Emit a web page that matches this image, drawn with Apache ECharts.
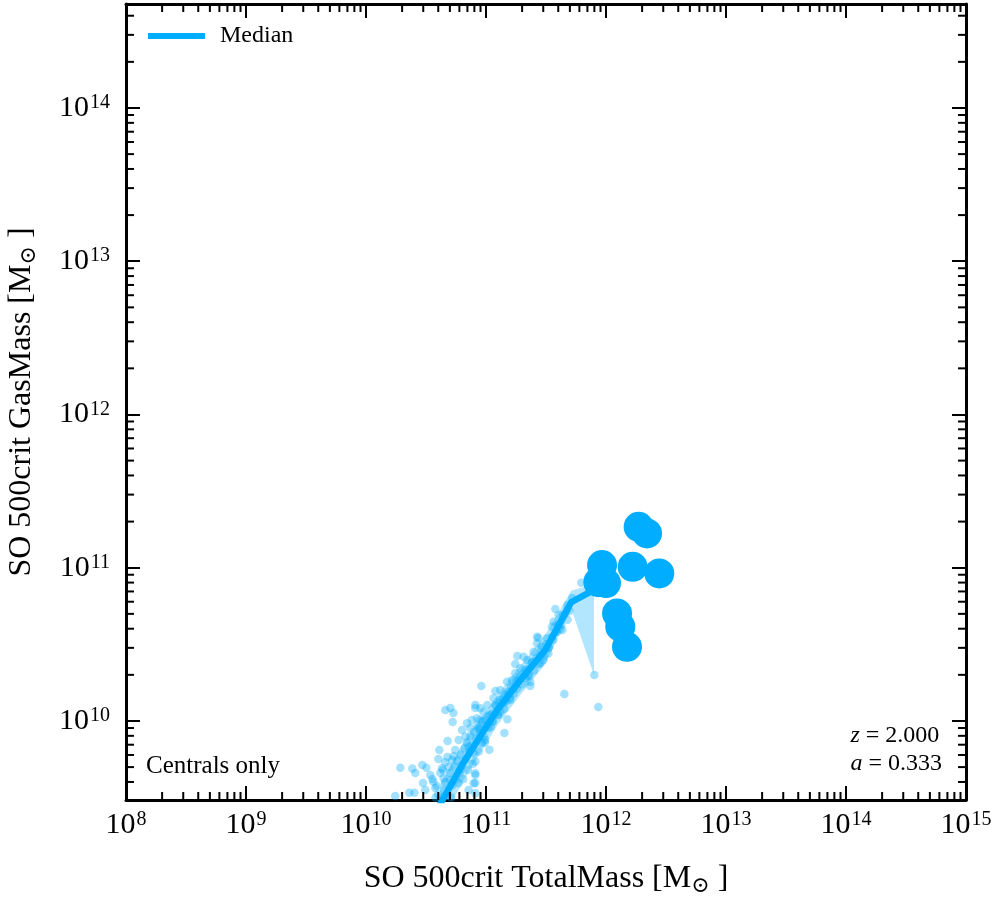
<!DOCTYPE html>
<html>
<head>
<meta charset="utf-8">
<script src="https://cdn.jsdelivr.net/npm/echarts@6/dist/echarts.min.js"></script>
<style>
  html, body { margin: 0; padding: 0; background: #fff; }
  #chart { width: 996px; height: 900px; }
</style>
</head>
<body>
<div id="chart"></div>
<script>
const FONT = '"Liberation Serif", "DejaVu Serif", serif';
const BLUE = '#00adff';

// axis ranges
const xMin = 1e8, xMax = 1e15;
const yMin = 3.05e9, yMax = 4.77e14;
const minorSteps = [2, 3, 4, 5, 6, 7, 8, 9];
const xDecades = [8, 9, 10, 11, 12, 13, 14];
const yDecades = [9, 10, 11, 12, 13, 14];

// median + 16/84 band per mass bin, in log10(M / Msun)
const medianLogX = [10.62, 10.811, 10.969, 11.094, 11.286, 11.494, 11.711, 11.90];
const medianLogY = [9.46, 9.726, 9.922, 10.072, 10.267, 10.463, 10.776, 10.855];
const upperLogY = [9.59, 9.86, 10.03, 10.17, 10.36, 10.565, 10.85, 10.895];
const lowerLogY = [9.33, 9.61, 9.81, 9.97, 10.17, 10.37, 10.73, 10.30];

// individual haloes [log10 TotalMass, log10 GasMass]
const haloLog = [
  [11.794,10.902],[11.578,10.730],[11.636,10.593],[11.694,10.717],[11.528,10.482],[11.436,10.541],
  [11.453,10.378],[11.261,10.424],[11.244,10.372],[11.369,10.254],[11.369,10.228],[11.653,10.176],
  [11.903,10.300],[11.936,10.091],[10.961,10.228],[11.078,10.196],
  [10.661,10.072],[10.703,10.085],[10.728,10.052],[10.722,9.993],[10.911,10.085],[10.680,9.870],
  [10.611,9.811],[10.678,9.765],[10.603,9.752],[10.286,9.694],[10.386,9.690],[10.411,9.661],
  [10.469,9.713],[10.503,9.694],[10.536,9.648],[10.475,9.596],[10.361,9.531],[10.403,9.531],
  [10.244,9.511],[10.911,9.648],[10.911,9.596],[11.153,9.922],[11.028,9.813],[11.178,10.011],
  [10.950,10.007],
  [10.633,9.692],[10.619,9.661],[10.561,9.603],[10.589,9.576],[10.647,9.626],[10.717,9.746],
  [10.744,9.811],[10.772,9.876],[10.800,9.941],[10.842,9.985],[10.883,10.007],[10.925,10.018],
  [10.828,9.898],[10.855,9.832],[10.897,9.789],[10.911,9.735],[10.911,9.659],[10.897,9.594],
  [10.911,9.529],[10.855,9.550],[10.772,9.594],[10.786,9.681],[10.703,9.615],[10.953,9.920],
  [10.967,9.855],[10.953,10.083],[10.911,10.104],[10.553,9.622],[10.494,9.550],[10.578,9.563],
  [10.65,9.55],[10.66,9.60],[10.68,9.52],[10.70,9.66],[10.72,9.58],[10.74,9.70],[10.75,9.62],
  [10.76,9.74],[10.78,9.66],[10.79,9.78],[10.80,9.71],[10.82,9.82],[10.83,9.75],[10.84,9.86],
  [10.86,9.80],[10.87,9.90],[10.88,9.84],[10.90,9.93],[10.92,9.88],[10.93,9.97],[10.95,9.95],
  [10.97,10.00],[10.98,9.90],[10.62,9.50],[10.60,9.52],[10.69,9.70],[10.71,9.50],[10.64,9.68],
  [10.73,9.77],[10.81,9.62],[10.85,9.68],[10.89,9.72],[10.94,9.80],[10.99,9.86],[10.58,9.50],
  [10.66,9.73],
  [10.994,10.007],[11.019,9.954],[11.036,10.039],[11.053,9.993],[11.078,10.104],[11.103,10.039],
  [10.994,9.876],[10.936,9.954],[11.119,10.202],[11.161,10.169],[11.011,10.104],[10.869,9.954],
  [10.978,10.059],[11.203,10.137],[11.228,10.215],[11.269,10.267],[11.328,10.332],[11.353,10.293],
  [11.386,10.385],[11.453,10.430],[11.478,10.398],[11.519,10.476],[11.561,10.528],[11.594,10.580],
  [11.628,10.626],[11.644,10.691],[11.678,10.756],[11.719,10.802],
  [11.175,10.256],[11.217,10.267],[11.188,10.181],[11.119,10.137],[11.147,10.115],[11.063,10.148],
  [11.244,10.311],[11.286,10.344],[11.342,10.398],[11.313,10.419],[11.397,10.452],[11.425,10.507],
  [11.467,10.484],[11.508,10.539],[11.550,10.615],[11.563,10.647],[11.605,10.691],[11.675,10.724],
  [11.425,10.550],
  [11.00,9.97],[11.02,10.03],[11.04,9.96],[11.05,10.05],[11.06,10.00],[11.08,10.10],[11.10,10.04],
  [11.11,10.12],[11.12,10.06],[11.14,10.15],[11.15,10.08],[11.17,10.13],[11.18,10.19],[11.20,10.15],
  [11.21,10.22],[11.23,10.18],[11.25,10.26],[11.26,10.21],[11.28,10.29],[11.30,10.24],[11.31,10.31],
  [11.33,10.28],[11.35,10.34],[11.36,10.30],[11.38,10.38],[11.40,10.33],[11.42,10.41],[11.44,10.37],
  [11.46,10.46],[11.48,10.42],[11.50,10.50],[11.52,10.44],[11.55,10.55],[11.58,10.58],[11.60,10.63],
  [11.62,10.60],[11.66,10.70],[11.68,10.66]
];

// most massive haloes, drawn large
const bigLog = [
  [12.272,11.267],[12.342,11.224],[11.967,11.017],[11.936,10.906],[12.000,10.900],
  [12.222,11.006],[12.444,10.963],[12.092,10.702],[12.119,10.615],[12.175,10.484]
];

const pow10 = v => Math.pow(10, v);
const toPt = p => [pow10(p[0]), pow10(p[1])];

const xMinor = [], yMinor = [];
xDecades.forEach(d => minorSteps.forEach(m => xMinor.push(m * pow10(d))));
yDecades.forEach(d => minorSteps.forEach(m => {
  const v = m * pow10(d);
  if (v > yMin && v < yMax) yMinor.push(v);
}));

function powLabel(v) {
  const e = Math.log10(v);
  if (Math.abs(e - Math.round(e)) > 1e-6) return '';
  return '{b|10}{s|' + Math.round(e) + '}';
}
const labelRich = {
  b: { fontFamily: FONT, fontSize: 30, lineHeight: 30, color: '#000' },
  s: { fontFamily: FONT, fontSize: 20, lineHeight: 20, verticalAlign: 'top', color: '#000', padding: [0, 0, 0, 1] }
};
const nameRich = {
  t: { fontFamily: FONT, fontSize: 32, lineHeight: 36, color: '#000' },
  sub: { fontFamily: FONT, fontSize: 22, lineHeight: 17, verticalAlign: 'bottom', color: '#000' }
};

function logAxis(extra) {
  return Object.assign({
    type: 'log',
    logBase: 10,
    axisLine: { show: true, onZero: false, lineStyle: { color: '#000', width: 3 } },
    axisTick: { show: true, inside: true, length: 14, lineStyle: { color: '#000', width: 2 } },
    splitLine: { show: false },
    minorTick: { show: false },
    axisLabel: { show: false }
  }, extra);
}

const tick = (x1, y1, x2, y2) => ({
  type: 'line', shape: { x1, y1, x2, y2 }, style: { stroke: '#000', lineWidth: 2 }
});

const chart = echarts.init(document.getElementById('chart'));
chart.setOption({
  animation: false,
  grid: { left: 126, right: 30, top: 4, bottom: 100, containLabel: false, outerBoundsMode: 'none' },
  legend: {
    left: 143, top: 19,
    icon: 'rect', itemWidth: 57, itemHeight: 6,
    data: ['Median'],
    textStyle: { fontFamily: FONT, fontSize: 24, color: '#000', padding: [0, 0, 0, 10] }
  },
  xAxis: [
    logAxis({
      min: xMin, max: xMax, position: 'bottom',
      axisLabel: { show: true, margin: 10, formatter: powLabel, rich: labelRich },
      name: '{t|SO 500crit TotalMass [M}{sub|⊙}{t| ]}',
      nameLocation: 'middle', nameGap: 61,
      nameTextStyle: { rich: nameRich }
    }),
    logAxis({ min: xMin, max: xMax, position: 'top' })
  ],
  yAxis: [
    logAxis({
      min: yMin, max: yMax, position: 'left',
      axisLabel: { show: true, margin: 16, formatter: powLabel, rich: labelRich },
      name: '{t|SO 500crit GasMass [M}{sub|⊙}{t| ]}',
      nameLocation: 'middle', nameGap: 86,
      nameTextStyle: { rich: nameRich }
    }),
    logAxis({ min: yMin, max: yMax, position: 'right' })
  ],
  graphic: [
    {
      type: 'text', left: 146, top: 754,
      style: { text: 'Centrals only', font: '25px ' + FONT, fill: '#000' }
    },
    {
      type: 'text', right: 54, top: 724,
      style: {
        text: '{i|z}{n| = 2.000}\n{i|a}{n| = 0.333}',
        align: 'right',
        rich: {
          i: { fontFamily: FONT, fontStyle: 'italic', fontSize: 24, lineHeight: 28, fill: '#000' },
          n: { fontFamily: FONT, fontSize: 24, lineHeight: 28, fill: '#000' }
        }
      }
    }
  ],
  series: [
    {
      type: 'scatter',
      name: 'haloes',
      data: haloLog.map(toPt),
      symbolSize: 8.5,
      itemStyle: { color: 'rgba(0,173,255,0.45)' },
      silent: true,
      z: 2
    },
    {
      type: 'custom',
      name: 'band',
      coordinateSystem: 'cartesian2d',
      clip: true,
      silent: true,
      z: 3,
      data: medianLogX.map((x, i) => [pow10(x), pow10(medianLogY[i])]),
      renderItem: (params, api) => {
        if (params.dataIndex !== 0) return null;
        const up = medianLogX.map((x, i) => api.coord([pow10(x), pow10(upperLogY[i])]));
        const lo = medianLogX.map((x, i) => api.coord([pow10(x), pow10(lowerLogY[i])])).reverse();
        return {
          type: 'polygon',
          shape: { points: up.concat(lo) },
          style: { fill: 'rgba(0,173,255,0.3)' }
        };
      }
    },
    {
      type: 'line',
      name: 'Median',
      data: medianLogX.map((x, i) => [pow10(x), pow10(medianLogY[i])]),
      color: BLUE,
      showSymbol: false,
      symbol: 'none',
      lineStyle: { color: BLUE, width: 6.5, cap: 'round', join: 'round' },
      clip: true,
      z: 4
    },
    {
      type: 'scatter',
      name: 'massive',
      data: bigLog.map(toPt),
      symbolSize: 30,
      itemStyle: { color: BLUE, opacity: 1 },
      silent: true,
      z: 5
    },
    {
      type: 'custom',
      name: 'minorTicks',
      coordinateSystem: 'cartesian2d',
      silent: true,
      z: 10,
      data: [[xMin, yMin]],
      renderItem: (params, api) => {
        const cs = params.coordSys;
        const left = cs.x, right = cs.x + cs.width, top = cs.y, bottom = cs.y + cs.height;
        const children = [];
        xMinor.forEach(v => {
          const px = api.coord([v, yMin])[0];
          children.push(tick(px, bottom, px, bottom - 8), tick(px, top, px, top + 8));
        });
        yMinor.forEach(v => {
          const py = api.coord([xMin, v])[1];
          children.push(tick(left, py, left + 8, py), tick(right, py, right - 8, py));
        });
        return { type: 'group', children };
      }
    }
  ]
});
</script>
</body>
</html>
